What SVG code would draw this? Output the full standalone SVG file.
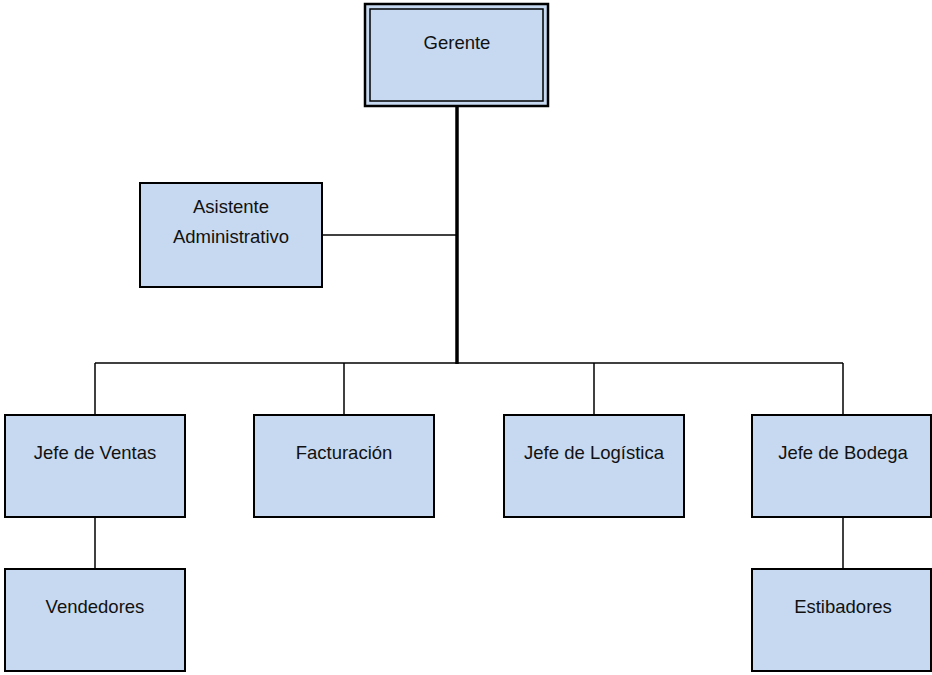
<svg xmlns="http://www.w3.org/2000/svg" width="932" height="675" viewBox="0 0 932 675">
<style>
.box{fill:#C6D9F0;stroke:#000;stroke-width:2}
.t{font-family:"Liberation Sans",Arial,sans-serif;font-size:18.5px;fill:#111;text-anchor:middle}
.c{stroke:#000;stroke-width:1.5;fill:none}
.ct{stroke:#000;stroke-width:3.5;fill:none}
</style>
<rect width="932" height="675" fill="#fff"/>
<g id="connectors">
<line class="ct" x1="457" y1="106" x2="457" y2="364"/>
<line class="c" x1="322" y1="235" x2="457" y2="235"/>
<line class="c" x1="95" y1="363" x2="843" y2="363"/>
<line class="c" x1="95" y1="363" x2="95" y2="415"/>
<line class="c" x1="344" y1="363" x2="344" y2="415"/>
<line class="c" x1="594" y1="363" x2="594" y2="415"/>
<line class="c" x1="843" y1="363" x2="843" y2="415"/>
<line class="c" x1="95" y1="517" x2="95" y2="569"/>
<line class="c" x1="843" y1="517" x2="843" y2="569"/>
</g>
<g id="gerente">
<rect x="365" y="4" width="183" height="102" fill="#C6D9F0" stroke="#000" stroke-width="2.5"/>
<rect x="370" y="9" width="173" height="92" fill="none" stroke="#000" stroke-width="1.5"/>
<text class="t" x="457" y="49">Gerente</text>
</g>
<g id="asistente">
<rect class="box" x="140" y="183" width="182" height="104"/>
<text class="t" x="231" y="213">Asistente</text>
<text class="t" x="231" y="243">Administrativo</text>
</g>
<g id="jefe-ventas">
<rect class="box" x="5" y="415" width="180" height="102"/>
<text class="t" x="95" y="459">Jefe de Ventas</text>
</g>
<g id="facturacion">
<rect class="box" x="254" y="415" width="180" height="102"/>
<text class="t" x="344" y="459">Facturación</text>
</g>
<g id="jefe-logistica">
<rect class="box" x="504" y="415" width="180" height="102"/>
<text class="t" x="594" y="459">Jefe de Logística</text>
</g>
<g id="jefe-bodega">
<rect class="box" x="752" y="415" width="179" height="102"/>
<text class="t" x="843" y="459">Jefe de Bodega</text>
</g>
<g id="vendedores">
<rect class="box" x="5" y="569" width="180" height="102"/>
<text class="t" x="95" y="613">Vendedores</text>
</g>
<g id="estibadores">
<rect class="box" x="752" y="569" width="179" height="102"/>
<text class="t" x="843" y="613">Estibadores</text>
</g>
</svg>
